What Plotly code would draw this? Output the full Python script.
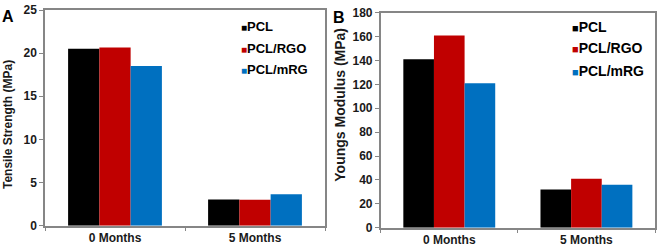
import plotly.graph_objects as go

categories = ["0 Months", "5 Months"]
series_names = ["PCL", "PCL/RGO", "PCL/mRG"]
series_colors = ["#000000", "#C00000", "#0070C0"]
tensile_strength = [[20.5, 3.05], [20.65, 3.0], [18.5, 3.65]]
youngs_modulus = [[141, 32], [161, 41], [121, 36]]
tensile_ticks = [0, 5, 10, 15, 20, 25]
modulus_ticks = [0, 20, 40, 60, 80, 100, 120, 140, 160, 180]

W, H = 661, 249
FONT = "Liberation Sans, Arial, sans-serif"
FRAME = "#868686"

fig = go.Figure()
for name, color, vals in zip(series_names, series_colors, tensile_strength):
    fig.add_trace(go.Bar(x=categories, y=vals, name=name, marker_color=color,
                         marker_line_width=0, xaxis="x", yaxis="y", showlegend=False))
for name, color, vals in zip(series_names, series_colors, youngs_modulus):
    fig.add_trace(go.Bar(x=categories, y=vals, name=name, marker_color=color,
                         marker_line_width=0, xaxis="x2", yaxis="y2", showlegend=False))

def px(x): return x / W
def py(y): return 1 - y / H

axis_common = dict(showline=True, linecolor=FRAME, linewidth=1.5, mirror=True,
                   showgrid=False, zeroline=False, ticks="outside", tickcolor=FRAME,
                   automargin=False,
                   tickfont=dict(family=FONT, size=12, color="#1a1a1a", weight="bold"))

fig.update_layout(
    width=W, height=H, margin=dict(l=0, r=0, t=0, b=0, autoexpand=False),
    paper_bgcolor="white", plot_bgcolor="white",
    barmode="group", bargap=0.33, bargroupgap=0,
    font=dict(family=FONT, color="#1a1a1a"),
    xaxis=dict(domain=[px(45), px(325)], anchor="y", type="category",
               tickson="boundaries", ticklen=4, **axis_common),
    yaxis=dict(domain=[py(225.7), py(10)], anchor="x", range=[0, 25],
               tickvals=tensile_ticks, ticklen=4, **axis_common),
    xaxis2=dict(domain=[px(380.7), px(655)], anchor="y2", type="category",
                tickson="boundaries", ticklen=4, **axis_common),
    yaxis2=dict(domain=[py(227.7), py(12.7)], anchor="x2", range=[0, 180],
                tickvals=modulus_ticks, ticklen=4, **axis_common),
)

annotations = []
# panel letters
annotations.append(dict(text="<b>A</b>", x=px(8.3), y=py(16.7), xref="paper", yref="paper",
                        showarrow=False, xanchor="center", yanchor="middle",
                        font=dict(family=FONT, size=16, color="#000")))
annotations.append(dict(text="<b>B</b>", x=px(338.7), y=py(17.2), xref="paper", yref="paper",
                        showarrow=False, xanchor="center", yanchor="middle",
                        font=dict(family=FONT, size=16, color="#000")))
# axis titles
annotations.append(dict(text="<b>Tensile Strength (MPa)</b>", x=px(7.5), y=py(124.5),
                        xref="paper", yref="paper", showarrow=False, textangle=-90,
                        xanchor="center", yanchor="middle",
                        font=dict(family=FONT, size=12, color="#1a1a1a")))
annotations.append(dict(text="<b>Youngs Modulus (MPa)</b>", x=px(340), y=py(104.7),
                        xref="paper", yref="paper", showarrow=False, textangle=-90,
                        xanchor="center", yanchor="middle",
                        font=dict(family=FONT, size=14, color="#1a1a1a")))
# legends
for lx, rows, fs in [(239, [26.7, 48.3, 70.0], 13), (569.7, [27.3, 48.3, 70.7], 14)]:
    for name, color, ry in zip(series_names, series_colors, rows):
        annotations.append(dict(
            text=f"<span style='color:{color};font-size:{fs-3}px'>■</span><b>{name}</b>",
            x=px(lx), y=py(ry), xref="paper", yref="paper", showarrow=False,
            xanchor="left", yanchor="middle",
            font=dict(family=FONT, size=fs, color="#000")))
fig.update_layout(annotations=annotations)

fig.write_html("out.html", config={"displayModeBar": False},
               post_script="document.body.style.margin='0';document.body.style.overflow='hidden';")
